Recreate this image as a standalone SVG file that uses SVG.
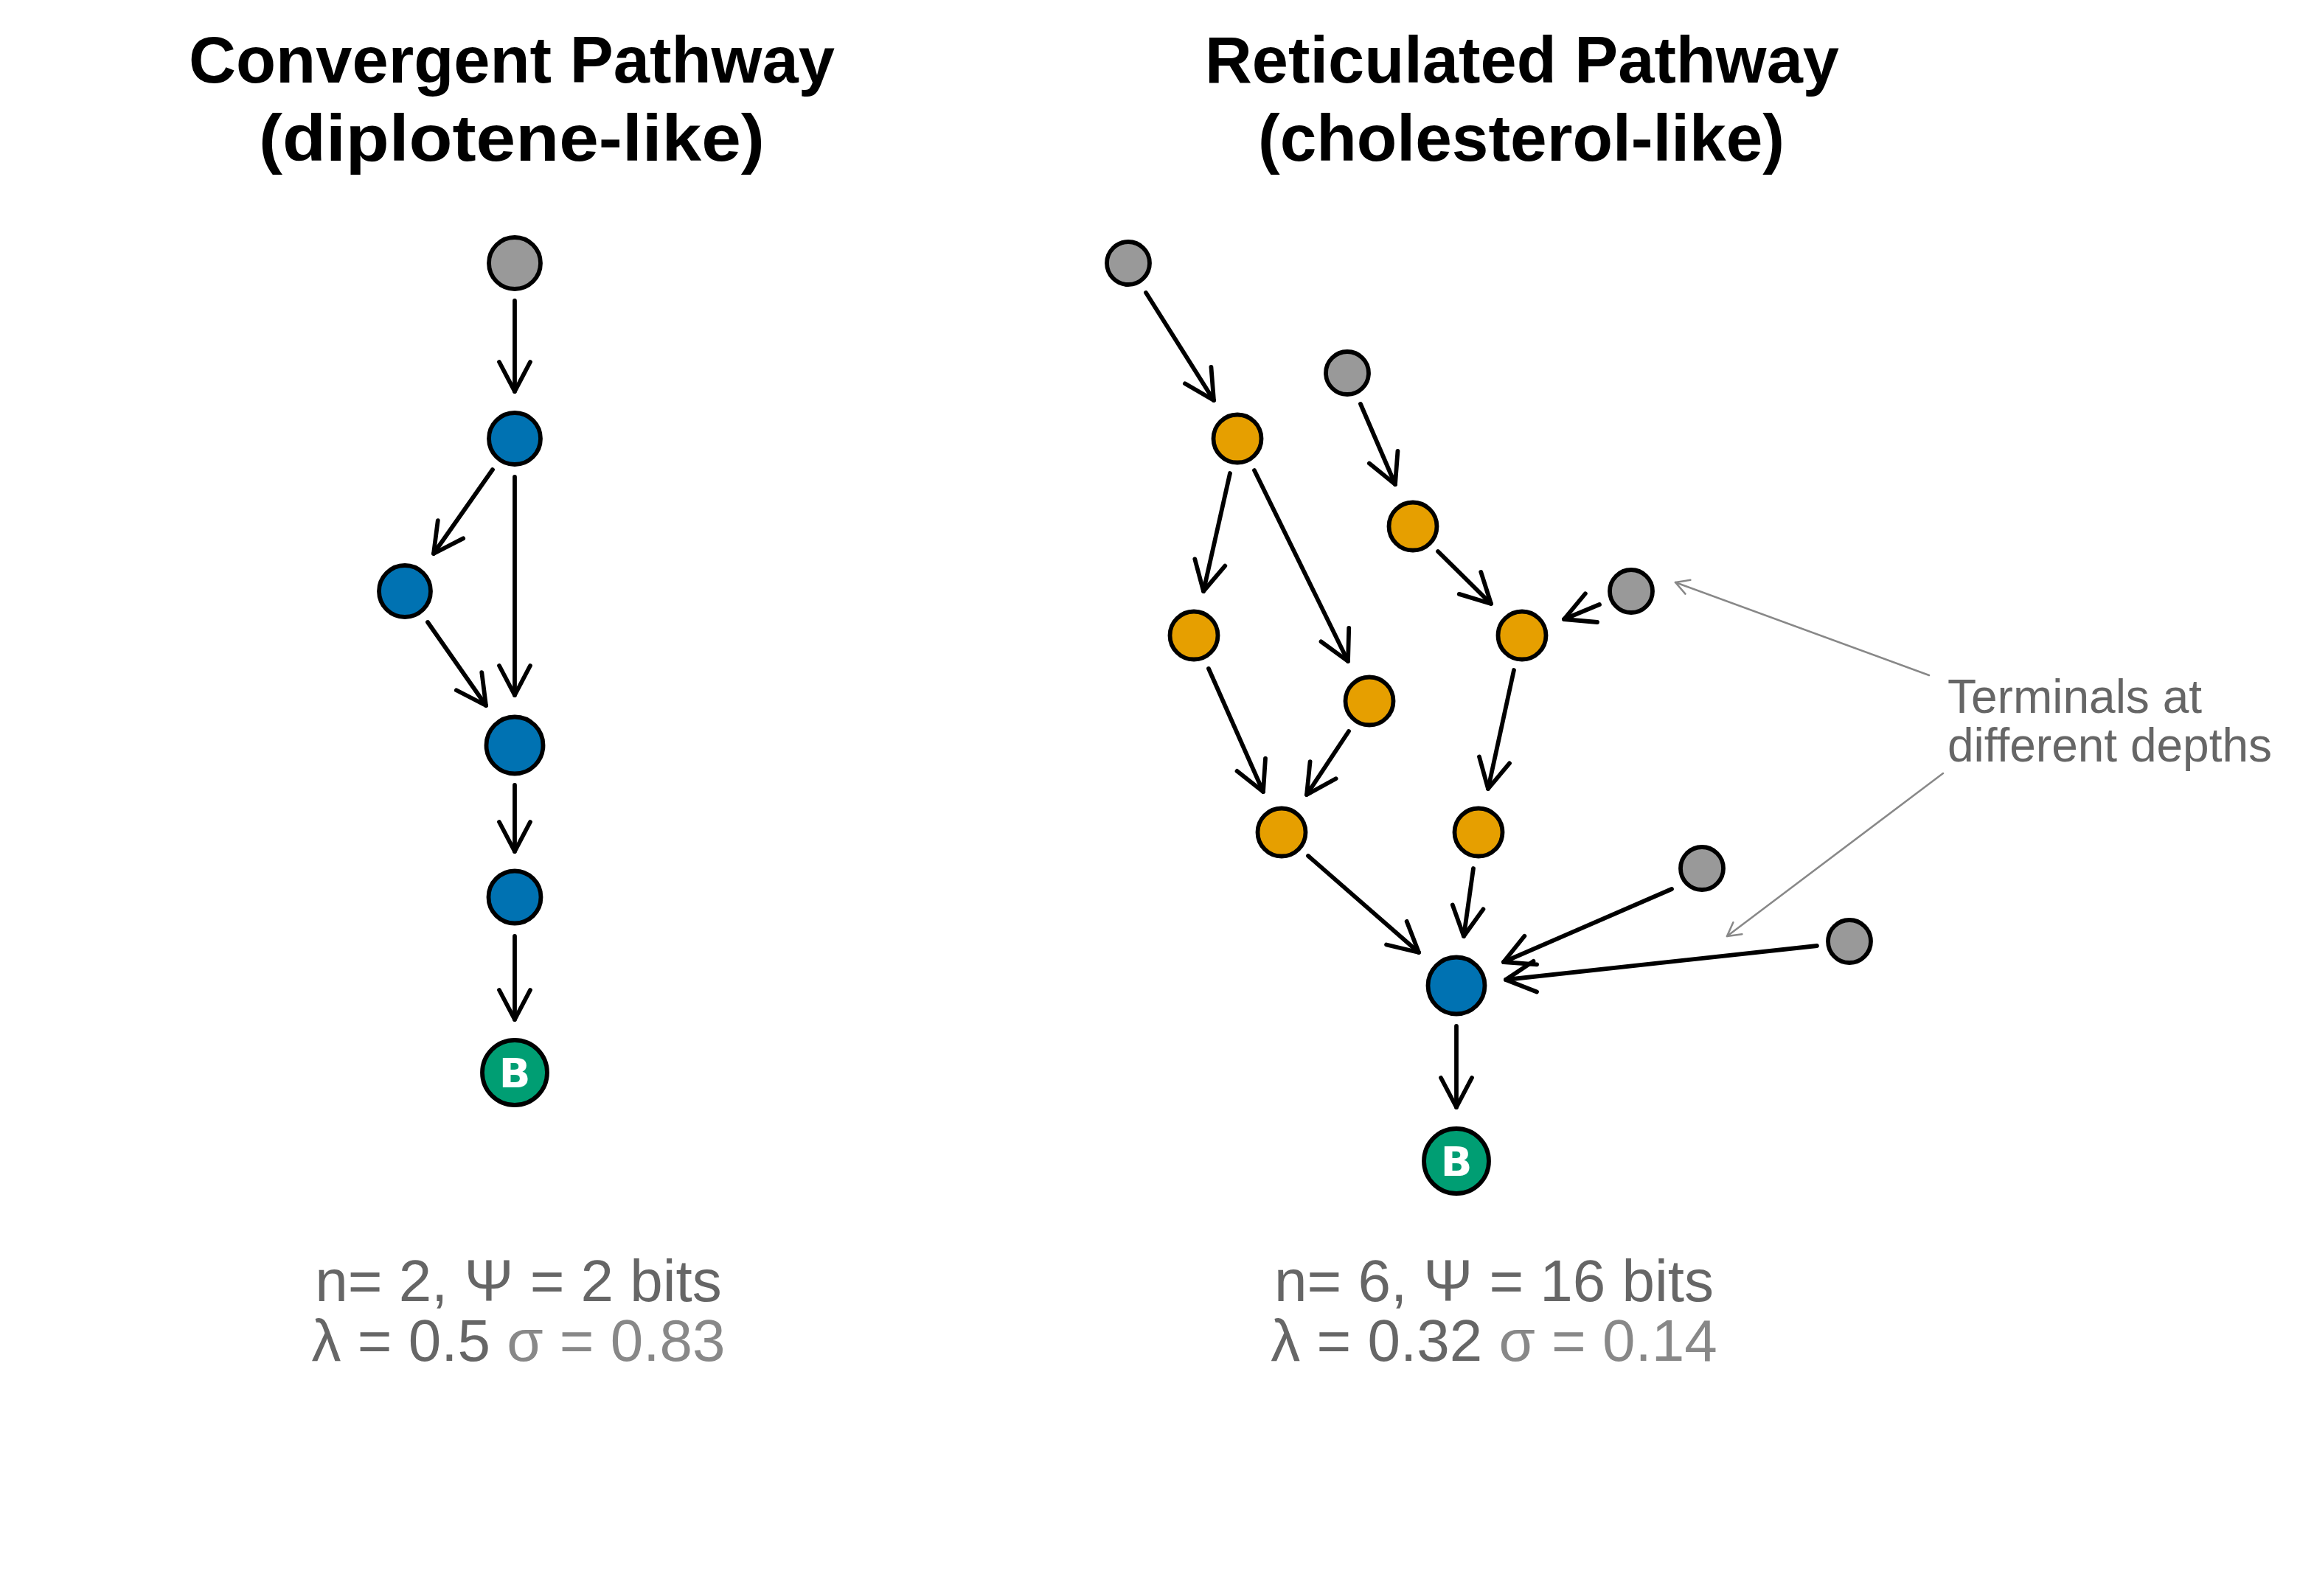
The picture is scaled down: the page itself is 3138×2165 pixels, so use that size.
<svg xmlns="http://www.w3.org/2000/svg" width="3138" height="2165" viewBox="0 0 3138 2165">
<style>
.title{font-family:"Liberation Sans",Arial,sans-serif;font-weight:bold;font-size:89px;fill:#000;text-anchor:middle}
.stat{font-family:"Liberation Sans",Arial,sans-serif;font-size:80px;fill:#666;text-anchor:middle}
.note{font-family:"Liberation Sans",Arial,sans-serif;font-size:64px;fill:#666}
.n{stroke:#000;stroke-width:5.8}
.gray{fill:#999999}
.blue{fill:#0072B2}
.orange{fill:#E69F00}
.green{fill:#009E73}
.lbl{font-family:"DejaVu Sans",sans-serif;font-weight:bold;font-size:56px;fill:#fff;text-anchor:middle}
.e{stroke:#000;stroke-width:5.8;stroke-linecap:round;fill:none;marker-end:url(#ah)}
.a{stroke:#888;stroke-width:2.5;stroke-linecap:round;fill:none;marker-end:url(#ahg)}
</style>
<defs>
<marker id="ah" markerUnits="userSpaceOnUse" viewBox="-46 -27 52 54" markerWidth="52" markerHeight="54" refX="0" refY="0" orient="auto" overflow="visible">
<path d="M-40,-21 L0,0 L-40,21" fill="none" stroke="#000" stroke-width="5.8" stroke-linecap="round" stroke-linejoin="round"/>
</marker>
<marker id="ahg" markerUnits="userSpaceOnUse" viewBox="-22 -14 26 28" markerWidth="26" markerHeight="28" refX="0" refY="0" orient="auto" overflow="visible">
<path d="M-18,-10 L0,0 L-18,10" fill="none" stroke="#888" stroke-width="2.5" stroke-linecap="round" stroke-linejoin="round"/>
</marker>
</defs>
<rect width="3138" height="2165" fill="#fff"/>

<g id="titles">
<text class="title" x="694" y="112" textLength="876" lengthAdjust="spacingAndGlyphs">Convergent Pathway</text>
<text class="title" x="694" y="218" textLength="686" lengthAdjust="spacingAndGlyphs">(diplotene-like)</text>
<text class="title" x="2064" y="112" textLength="860" lengthAdjust="spacingAndGlyphs">Reticulated Pathway</text>
<text class="title" x="2063" y="218" textLength="714" lengthAdjust="spacingAndGlyphs">(cholesterol-like)</text>
</g>

<g id="connectors">
<!-- left -->
<line class="e" x1="698" y1="408" x2="698" y2="531"/>
<line class="e" x1="668" y1="637" x2="588" y2="751"/>
<line class="e" x1="698" y1="647" x2="698" y2="943"/>
<line class="e" x1="580" y1="844" x2="659" y2="957"/>
<line class="e" x1="698" y1="1065" x2="698" y2="1155"/>
<line class="e" x1="698" y1="1270" x2="698" y2="1383"/>
<!-- right -->
<line class="e" x1="1554" y1="397" x2="1646" y2="543"/>
<line class="e" x1="1845" y1="548" x2="1892" y2="657"/>
<line class="e" x1="1668" y1="642" x2="1632" y2="802"/>
<line class="e" x1="1701" y1="638" x2="1828" y2="897"/>
<line class="e" x1="1950" y1="748" x2="2022" y2="819"/>
<line class="e" x1="2169" y1="820" x2="2121" y2="840"/>
<line class="e" x1="1639" y1="907" x2="1713" y2="1074"/>
<line class="e" x1="1829" y1="992" x2="1772" y2="1078"/>
<line class="e" x1="2053" y1="909" x2="2018" y2="1070"/>
<line class="e" x1="1774" y1="1161" x2="1924" y2="1292"/>
<line class="e" x1="1998" y1="1178" x2="1985" y2="1270"/>
<line class="e" x1="2267" y1="1206" x2="2039" y2="1305"/>
<line class="e" x1="2464" y1="1283" x2="2042" y2="1329"/>
<line class="e" x1="1975" y1="1392" x2="1975" y2="1502"/>
<!-- annotation -->
<line class="a" x1="2616" y1="916" x2="2272" y2="790"/>
<line class="a" x1="2635" y1="1049" x2="2342" y2="1270"/>
</g>

<g id="left-g1"><circle class="n gray" cx="698" cy="357" r="35"/></g>
<g id="left-b1"><circle class="n blue" cx="698" cy="595" r="35"/></g>
<g id="left-b2"><circle class="n blue" cx="549" cy="802" r="35"/></g>
<g id="left-b3"><circle class="n blue" cx="698" cy="1011" r="38.5"/></g>
<g id="left-b4"><circle class="n blue" cx="698" cy="1217" r="35.5"/></g>
<g id="left-B"><circle class="n green" cx="698" cy="1455" r="44"/><text class="lbl" x="698" y="1475">B</text></g>

<g id="right-g1"><circle class="n gray" cx="1530" cy="357" r="29"/></g>
<g id="right-g2"><circle class="n gray" cx="1827" cy="506" r="29"/></g>
<g id="right-g3"><circle class="n gray" cx="2212" cy="802" r="29"/></g>
<g id="right-g4"><circle class="n gray" cx="2308" cy="1178" r="29"/></g>
<g id="right-g5"><circle class="n gray" cx="2508" cy="1277" r="29"/></g>
<g id="right-o1"><circle class="n orange" cx="1678" cy="595" r="32.5"/></g>
<g id="right-o2"><circle class="n orange" cx="1916" cy="714" r="32.5"/></g>
<g id="right-o3"><circle class="n orange" cx="1619" cy="862" r="32.5"/></g>
<g id="right-o4"><circle class="n orange" cx="1857" cy="951" r="32.5"/></g>
<g id="right-o5"><circle class="n orange" cx="2064" cy="862" r="32.5"/></g>
<g id="right-o6"><circle class="n orange" cx="1738" cy="1129" r="32.5"/></g>
<g id="right-o7"><circle class="n orange" cx="2005" cy="1129" r="32.5"/></g>
<g id="right-blue"><circle class="n blue" cx="1975" cy="1337" r="38.5"/></g>
<g id="right-B"><circle class="n green" cx="1975" cy="1575" r="44"/><text class="lbl" x="1975" y="1595">B</text></g>

<g id="annotation">
<text class="note" x="2641" y="967">Terminals at</text>
<text class="note" x="2641" y="1033">different depths</text>
</g>

<g id="stats">
<text class="stat" x="703" y="1765">n= 2, Ψ = 2 bits</text>
<text class="stat" x="703" y="1846"><tspan>λ = 0.5 </tspan><tspan fill="#888">σ = 0.83</tspan></text>
<text class="stat" x="2026" y="1765">n= 6, Ψ = 16 bits</text>
<text class="stat" x="2026" y="1846"><tspan>λ = 0.32 </tspan><tspan fill="#888">σ = 0.14</tspan></text>
</g>
</svg>
